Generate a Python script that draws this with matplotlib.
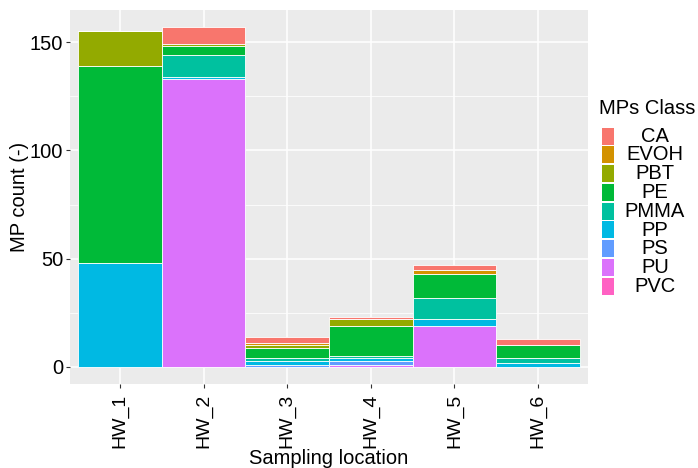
import numpy as np
import matplotlib.pyplot as plt
from matplotlib.patches import Rectangle

plt.rcParams['font.family'] = ['Liberation Sans', 'DejaVu Sans']

locations = ['HW_1', 'HW_2', 'HW_3', 'HW_4', 'HW_5', 'HW_6']
classes = ['CA', 'EVOH', 'PBT', 'PE', 'PMMA', 'PP', 'PS', 'PU', 'PVC']
colors = ['#F8766D', '#D39200', '#93AA00', '#00BA38', '#00C19F',
          '#00B9E3', '#619CFF', '#DB72FB', '#FF61C3']

# counts per class at each location
CA = [0, 8, 3, 1, 2, 3]
EVOH = [0, 0, 1, 0, 2, 0]
PBT = [16, 1, 1, 3, 0, 0]
PE = [91, 4, 5, 14, 11, 6]
PMMA = [0, 10, 1, 1, 10, 2]
PP = [48, 1, 2, 1, 3, 2]
PS = [0, 0, 1, 2, 0, 0]
PU = [0, 133, 0, 1, 19, 0]
PVC = [0, 0, 0, 0, 0, 0]
counts = [CA, EVOH, PBT, PE, PMMA, PP, PS, PU, PVC]

fig = plt.figure(figsize=(6.98, 4.68), dpi=100)
ax = fig.add_axes([70/698, 1-384/468, 518/698, 374/468])
ax.set_facecolor('#EBEBEB')

x = np.arange(1, len(locations)+1)
bottom = np.zeros(len(locations))
# stack from the last class upwards so CA ends on top
for name, col, vals in zip(classes[::-1], colors[::-1], counts[::-1]):
    vals = np.array(vals, dtype=float)
    ax.bar(x, vals, width=1.0, bottom=bottom, color=col,
           edgecolor='white', linewidth=0.6)
    bottom += vals

top = bottom.max()
ax.set_xlim(0.4, 6.6)
ax.set_ylim(-0.05*top, top*1.05)
ax.set_xticks(x)
ax.set_xticklabels(locations, rotation=90, fontsize=14, color='black')
ax.set_yticks([0, 50, 100, 150])
ax.set_yticks([25, 75, 125], minor=True)
ax.tick_params(axis='y', labelsize=14.5, labelcolor='black', pad=2)
ax.tick_params(axis='x', pad=4)
ax.tick_params(which='major', length=3, color='#333333', width=0.8)
ax.tick_params(which='minor', length=0)
ax.grid(which='major', color='white', linewidth=1.1)
ax.grid(which='minor', axis='y', color='white', linewidth=0.55)
ax.set_axisbelow(True)
for s in ax.spines.values():
    s.set_visible(False)
ax.set_xlabel('Sampling location', fontsize=14.5)
ax.xaxis.set_label_coords(0.5, -0.175)
ax.set_ylabel('MP count (-)', fontsize=14.5)
ax.yaxis.set_label_coords(-0.079, 0.5)

# legend drawn by hand with centred labels
W, H = 698, 468
fig.text(599/W, 1-109/H, 'MPs Class', fontsize=14.5, va='center', ha='left')
step = 18.8
for i, (name, col) in enumerate(zip(classes, colors)):
    y0 = 127.5 + i*step
    fig.patches.append(Rectangle((602/W, 1-(y0+17)/H), 12/W, 17/H,
                                 transform=fig.transFigure, color=col,
                                 linewidth=0))
    fig.text(655/W, 1-(y0+8.5)/H, name, fontsize=14.5, ha='center', va='center')

fig.savefig('out.png', dpi=100)
